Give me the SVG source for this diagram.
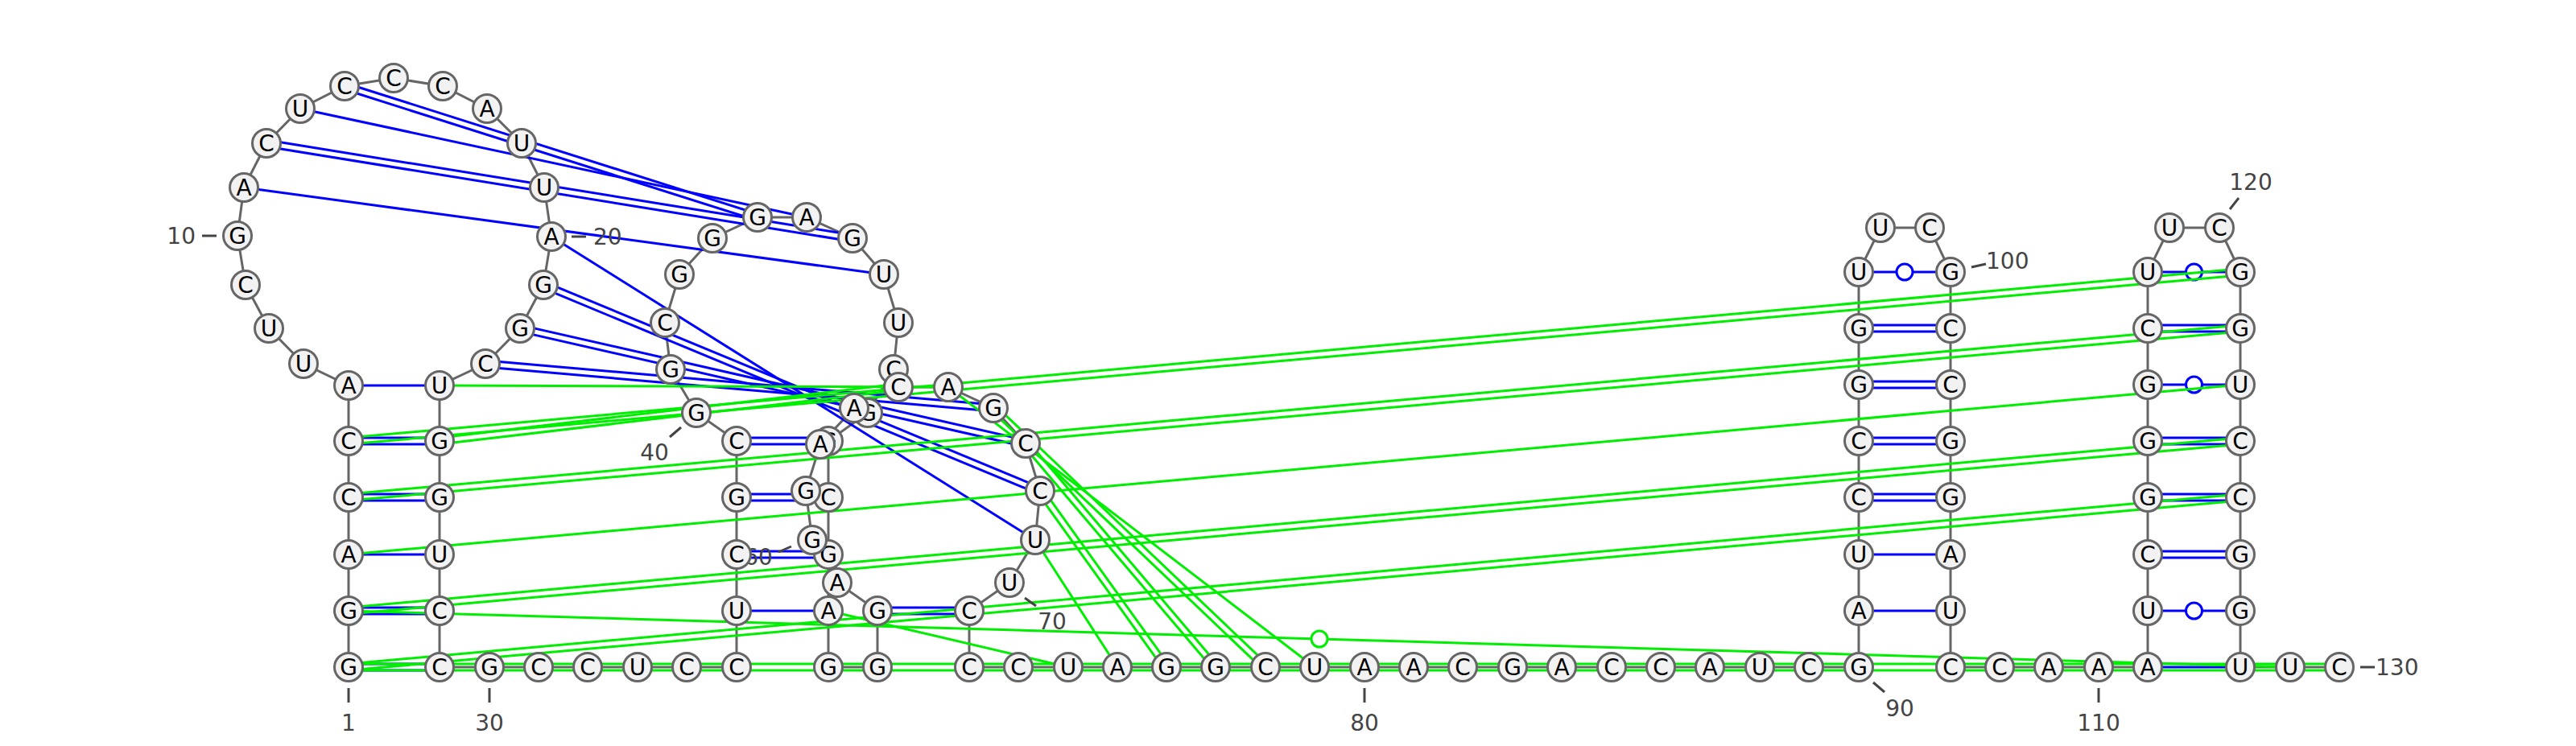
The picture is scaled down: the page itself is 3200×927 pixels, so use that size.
<svg xmlns="http://www.w3.org/2000/svg" width="3200" height="927" viewBox="0 0 3200 927">
<style>
.bb{stroke:#666;stroke-width:3;fill:none}
.b{stroke:#0000ff;stroke-width:3;fill:none}
.g{stroke:#00ee00;stroke-width:3;fill:none}
.bc{stroke:#0000ff;stroke-width:3;fill:#fff}
.gc{stroke:#00ee00;stroke-width:3;fill:#fff}
.n circle{fill:#f2f2f2;stroke:#666;stroke-width:3}
.n text{font-family:"DejaVu Sans",sans-serif;font-size:28px;text-anchor:middle;fill:#000}
.lt{stroke:#444;stroke-width:3}
.lb{font-family:"DejaVu Sans",sans-serif;font-size:28px;fill:#444}
</style>
<rect width="3200" height="927" fill="#fff"/>
<g id="connectors">
<polyline class="bb" points="433,829 433,759 433,689 433,618 433,548 433,479 377,452 334,408 305,354 295,293 303,233 331,178 373,135 428,107 489,97 550,107 605,135 648,178 676,233 685,294 675,354 646,408 603,452 546,479 546,548 546,618 546,689 546,759 546,829 608,829 669,829 730,829 792,829 853,829 915,829 915,759 915,689 915,618 915,548 865,513 833,459 826,401 844,341 885,296 941,270 1002,270 1059,296 1098,341 1116,401 1110,459 1078,513 1029,548 1029,618 1029,689 1029,759 1029,829 1090,829 1090,759 1040,724 1009,671 1001,610 1019,552 1061,507 1116,481 1178,481 1234,507 1274,551 1292,610 1286,671 1254,724 1204,759 1204,829 1265,829 1327,829 1388,829 1449,829 1510,829 1572,829 1633,829 1695,829 1756,829 1817,829 1879,829 1940,829 2002,829 2063,829 2124,829 2186,829 2247,829 2309,829 2309,759 2309,689 2309,618 2309,548 2309,478 2309,408 2309,338 2336,283 2397,283 2423,338 2423,408 2423,478 2423,548 2423,618 2423,689 2423,759 2423,829 2484,829 2545,829 2607,829 2668,829 2668,759 2668,689 2668,618 2668,548 2668,478 2668,408 2668,338 2695,283 2757,283 2783,338 2783,408 2783,478 2783,548 2783,618 2783,689 2783,759 2783,829 2845,829 2906,829"/>
<!-- blue pairs -->
<line class="b" x1="433" y1="825" x2="546" y2="825"/><line class="b" x1="433" y1="833" x2="546" y2="833"/>
<line class="b" x1="433" y1="755" x2="546" y2="755"/><line class="b" x1="433" y1="763" x2="546" y2="763"/>
<line class="b" x1="433" y1="689" x2="546" y2="689"/>
<line class="b" x1="433" y1="614" x2="546" y2="614"/><line class="b" x1="433" y1="622" x2="546" y2="622"/>
<line class="b" x1="433" y1="544" x2="546" y2="544"/><line class="b" x1="433" y1="552" x2="546" y2="552"/>
<line class="b" x1="433" y1="479" x2="546" y2="479"/>
<line class="b" x1="303" y1="233" x2="1098" y2="341"/>
<line class="b" x1="330.4" y1="182" x2="1058.4" y2="300"/><line class="b" x1="331.6" y1="174" x2="1059.6" y2="292"/>
<line class="b" x1="373" y1="135" x2="1002" y2="270"/>
<line class="b" x1="426.8" y1="110.8" x2="939.8" y2="273.8"/><line class="b" x1="429.2" y1="103.2" x2="942.2" y2="266.2"/>
<line class="b" x1="685" y1="294" x2="1286" y2="671"/>
<line class="b" x1="673.5" y1="357.7" x2="1290.5" y2="613.7"/><line class="b" x1="676.5" y1="350.3" x2="1293.5" y2="606.3"/>
<line class="b" x1="645.1" y1="411.9" x2="1273.1" y2="554.9"/><line class="b" x1="646.9" y1="404.1" x2="1274.9" y2="547.1"/>
<line class="b" x1="602.6" y1="456" x2="1233.6" y2="511"/><line class="b" x1="603.4" y1="448" x2="1234.4" y2="503"/>
<line class="b" x1="915" y1="759" x2="1029" y2="759"/>
<line class="b" x1="915" y1="685" x2="1029" y2="685"/><line class="b" x1="915" y1="693" x2="1029" y2="693"/>
<line class="b" x1="915" y1="614" x2="1029" y2="614"/><line class="b" x1="915" y1="622" x2="1029" y2="622"/>
<line class="b" x1="915" y1="544" x2="1029" y2="544"/><line class="b" x1="915" y1="552" x2="1029" y2="552"/>
<line class="b" x1="1090" y1="755" x2="1204" y2="755"/><line class="b" x1="1090" y1="763" x2="1204" y2="763"/>
<line class="b" x1="2309" y1="759" x2="2423" y2="759"/>
<line class="b" x1="2309" y1="689" x2="2423" y2="689"/>
<line class="b" x1="2309" y1="614" x2="2423" y2="614"/><line class="b" x1="2309" y1="622" x2="2423" y2="622"/>
<line class="b" x1="2309" y1="544" x2="2423" y2="544"/><line class="b" x1="2309" y1="552" x2="2423" y2="552"/>
<line class="b" x1="2309" y1="474" x2="2423" y2="474"/><line class="b" x1="2309" y1="482" x2="2423" y2="482"/>
<line class="b" x1="2309" y1="404" x2="2423" y2="404"/><line class="b" x1="2309" y1="412" x2="2423" y2="412"/>
<line class="b" x1="2309" y1="338" x2="2423" y2="338"/><circle class="bc" cx="2366" cy="338" r="10"/>
<line class="b" x1="2668" y1="829" x2="2783" y2="829"/>
<line class="b" x1="2668" y1="759" x2="2783" y2="759"/><circle class="bc" cx="2725.5" cy="759" r="10"/>
<line class="b" x1="2668" y1="685" x2="2783" y2="685"/><line class="b" x1="2668" y1="693" x2="2783" y2="693"/>
<line class="b" x1="2668" y1="614" x2="2783" y2="614"/><line class="b" x1="2668" y1="622" x2="2783" y2="622"/>
<line class="b" x1="2668" y1="544" x2="2783" y2="544"/><line class="b" x1="2668" y1="552" x2="2783" y2="552"/>
<line class="b" x1="2668" y1="478" x2="2783" y2="478"/><circle class="bc" cx="2725.5" cy="478" r="10"/>
<line class="b" x1="2668" y1="404" x2="2783" y2="404"/><line class="b" x1="2668" y1="412" x2="2783" y2="412"/>
<line class="b" x1="2668" y1="338" x2="2783" y2="338"/><circle class="bc" cx="2725.5" cy="338" r="10"/>
<!-- green pairs -->
<line class="g" x1="433" y1="825" x2="2906" y2="825"/><line class="g" x1="433" y1="833" x2="2906" y2="833"/>
<line class="g" x1="433.4" y1="833" x2="2783.4" y2="622"/><line class="g" x1="432.6" y1="825" x2="2782.6" y2="614"/>
<line class="g" x1="433.4" y1="763" x2="2783.4" y2="552"/><line class="g" x1="432.6" y1="755" x2="2782.6" y2="544"/>
<line class="g" x1="433" y1="689" x2="2783" y2="478"/>
<line class="g" x1="433.4" y1="622" x2="2783.4" y2="412"/><line class="g" x1="432.6" y1="614" x2="2782.6" y2="404"/>
<line class="g" x1="433.4" y1="552" x2="2783.4" y2="342"/><line class="g" x1="432.6" y1="544" x2="2782.6" y2="334"/>
<line class="g" x1="433" y1="759" x2="2845" y2="829"/><circle class="gc" cx="1639" cy="794" r="10"/>
<line class="g" x1="546" y1="479" x2="1178" y2="481"/>
<line class="g" x1="546" y1="544" x2="1116" y2="477"/><line class="g" x1="546" y1="552" x2="1116" y2="485"/>
<line class="g" x1="1029" y1="759" x2="1327" y2="829"/>
<line class="g" x1="1178" y1="481" x2="1633" y2="829"/>
<line class="g" x1="1231.2" y1="509.9" x2="1569.2" y2="831.9"/><line class="g" x1="1236.8" y1="504.1" x2="1574.8" y2="826.1"/>
<line class="g" x1="1271.4" y1="554" x2="1507.4" y2="832"/><line class="g" x1="1276.6" y1="548" x2="1512.6" y2="826"/>
<line class="g" x1="1288.8" y1="612.3" x2="1445.8" y2="831.3"/><line class="g" x1="1295.2" y1="607.7" x2="1452.2" y2="826.7"/>
<line class="g" x1="1286" y1="671" x2="1388" y2="829"/>
</g>
<g id="labels">
<line class="lt" x1="433" y1="855" x2="433" y2="873"/><text class="lb" x="433" y="908" text-anchor="middle">1</text>
<line class="lt" x1="251" y1="293" x2="269" y2="293"/><text class="lb" x="243" y="303" text-anchor="end">10</text>
<line class="lt" x1="710" y1="294" x2="728" y2="294"/><text class="lb" x="737" y="304">20</text>
<line class="lt" x1="608" y1="855" x2="608" y2="873"/><text class="lb" x="608" y="908" text-anchor="middle">30</text>
<line class="lt" x1="832" y1="543" x2="846" y2="531"/><text class="lb" x="813" y="572" text-anchor="middle">40</text>
<line class="lt" x1="967" y1="686" x2="983" y2="679"/><text class="lb" x="942" y="702" text-anchor="middle">60</text>
<line class="lt" x1="1273" y1="743" x2="1287" y2="753"/><text class="lb" x="1307" y="782" text-anchor="middle">70</text>
<line class="lt" x1="1695" y1="855" x2="1695" y2="873"/><text class="lb" x="1695" y="908" text-anchor="middle">80</text>
<line class="lt" x1="2327" y1="848" x2="2341" y2="860"/><text class="lb" x="2360" y="890" text-anchor="middle">90</text>
<line class="lt" x1="2449" y1="332" x2="2467" y2="328"/><text class="lb" x="2467" y="334">100</text>
<line class="lt" x1="2607" y1="855" x2="2607" y2="873"/><text class="lb" x="2607" y="908" text-anchor="middle">110</text>
<line class="lt" x1="2770" y1="260" x2="2781" y2="246"/><text class="lb" x="2796" y="236" text-anchor="middle">120</text>
<line class="lt" x1="2932" y1="829" x2="2950" y2="829"/><text class="lb" x="2951" y="839">130</text>
</g>
<g id="nodes" class="n">
<g id="n1"><circle cx="433" cy="829" r="17.5"/><text x="433" y="839">G</text></g>
<g id="n2"><circle cx="433" cy="759" r="17.5"/><text x="433" y="769">G</text></g>
<g id="n3"><circle cx="433" cy="689" r="17.5"/><text x="433" y="699">A</text></g>
<g id="n4"><circle cx="433" cy="618" r="17.5"/><text x="433" y="628">C</text></g>
<g id="n5"><circle cx="433" cy="548" r="17.5"/><text x="433" y="558">C</text></g>
<g id="n6"><circle cx="433" cy="479" r="17.5"/><text x="433" y="489">A</text></g>
<g id="n7"><circle cx="377" cy="452" r="17.5"/><text x="377" y="462">U</text></g>
<g id="n8"><circle cx="334" cy="408" r="17.5"/><text x="334" y="418">U</text></g>
<g id="n9"><circle cx="305" cy="354" r="17.5"/><text x="305" y="364">C</text></g>
<g id="n10"><circle cx="295" cy="293" r="17.5"/><text x="295" y="303">G</text></g>
<g id="n11"><circle cx="303" cy="233" r="17.5"/><text x="303" y="243">A</text></g>
<g id="n12"><circle cx="331" cy="178" r="17.5"/><text x="331" y="188">C</text></g>
<g id="n13"><circle cx="373" cy="135" r="17.5"/><text x="373" y="145">U</text></g>
<g id="n14"><circle cx="428" cy="107" r="17.5"/><text x="428" y="117">C</text></g>
<g id="n15"><circle cx="489" cy="97" r="17.5"/><text x="489" y="107">C</text></g>
<g id="n16"><circle cx="550" cy="107" r="17.5"/><text x="550" y="117">C</text></g>
<g id="n17"><circle cx="605" cy="135" r="17.5"/><text x="605" y="145">A</text></g>
<g id="n18"><circle cx="648" cy="178" r="17.5"/><text x="648" y="188">U</text></g>
<g id="n19"><circle cx="676" cy="233" r="17.5"/><text x="676" y="243">U</text></g>
<g id="n20"><circle cx="685" cy="294" r="17.5"/><text x="685" y="304">A</text></g>
<g id="n21"><circle cx="675" cy="354" r="17.5"/><text x="675" y="364">G</text></g>
<g id="n22"><circle cx="646" cy="408" r="17.5"/><text x="646" y="418">G</text></g>
<g id="n23"><circle cx="603" cy="452" r="17.5"/><text x="603" y="462">C</text></g>
<g id="n24"><circle cx="546" cy="479" r="17.5"/><text x="546" y="489">U</text></g>
<g id="n25"><circle cx="546" cy="548" r="17.5"/><text x="546" y="558">G</text></g>
<g id="n26"><circle cx="546" cy="618" r="17.5"/><text x="546" y="628">G</text></g>
<g id="n27"><circle cx="546" cy="689" r="17.5"/><text x="546" y="699">U</text></g>
<g id="n28"><circle cx="546" cy="759" r="17.5"/><text x="546" y="769">C</text></g>
<g id="n29"><circle cx="546" cy="829" r="17.5"/><text x="546" y="839">C</text></g>
<g id="n30"><circle cx="608" cy="829" r="17.5"/><text x="608" y="839">G</text></g>
<g id="n31"><circle cx="669" cy="829" r="17.5"/><text x="669" y="839">C</text></g>
<g id="n32"><circle cx="730" cy="829" r="17.5"/><text x="730" y="839">C</text></g>
<g id="n33"><circle cx="792" cy="829" r="17.5"/><text x="792" y="839">U</text></g>
<g id="n34"><circle cx="853" cy="829" r="17.5"/><text x="853" y="839">C</text></g>
<g id="n35"><circle cx="915" cy="829" r="17.5"/><text x="915" y="839">C</text></g>
<g id="n36"><circle cx="915" cy="759" r="17.5"/><text x="915" y="769">U</text></g>
<g id="n37"><circle cx="915" cy="689" r="17.5"/><text x="915" y="699">C</text></g>
<g id="n38"><circle cx="915" cy="618" r="17.5"/><text x="915" y="628">G</text></g>
<g id="n39"><circle cx="915" cy="548" r="17.5"/><text x="915" y="558">C</text></g>
<g id="n40"><circle cx="865" cy="513" r="17.5"/><text x="865" y="523">G</text></g>
<g id="n41"><circle cx="833" cy="459" r="17.5"/><text x="833" y="469">G</text></g>
<g id="n42"><circle cx="826" cy="401" r="17.5"/><text x="826" y="411">C</text></g>
<g id="n43"><circle cx="844" cy="341" r="17.5"/><text x="844" y="351">G</text></g>
<g id="n44"><circle cx="885" cy="296" r="17.5"/><text x="885" y="306">G</text></g>
<g id="n45"><circle cx="941" cy="270" r="17.5"/><text x="941" y="280">G</text></g>
<g id="n46"><circle cx="1002" cy="270" r="17.5"/><text x="1002" y="280">A</text></g>
<g id="n47"><circle cx="1059" cy="296" r="17.5"/><text x="1059" y="306">G</text></g>
<g id="n48"><circle cx="1098" cy="341" r="17.5"/><text x="1098" y="351">U</text></g>
<g id="n49"><circle cx="1116" cy="401" r="17.5"/><text x="1116" y="411">U</text></g>
<g id="n50"><circle cx="1110" cy="459" r="17.5"/><text x="1110" y="469">C</text></g>
<g id="n51"><circle cx="1078" cy="513" r="17.5"/><text x="1078" y="523">G</text></g>
<g id="n52"><circle cx="1029" cy="548" r="17.5"/><text x="1029" y="558">G</text></g>
<g id="n53"><circle cx="1029" cy="618" r="17.5"/><text x="1029" y="628">C</text></g>
<g id="n54"><circle cx="1029" cy="689" r="17.5"/><text x="1029" y="699">G</text></g>
<g id="n55"><circle cx="1029" cy="759" r="17.5"/><text x="1029" y="769">A</text></g>
<g id="n56"><circle cx="1029" cy="829" r="17.5"/><text x="1029" y="839">G</text></g>
<g id="n57"><circle cx="1090" cy="829" r="17.5"/><text x="1090" y="839">G</text></g>
<g id="n58"><circle cx="1090" cy="759" r="17.5"/><text x="1090" y="769">G</text></g>
<g id="n59"><circle cx="1040" cy="724" r="17.5"/><text x="1040" y="734">A</text></g>
<g id="n60"><circle cx="1009" cy="671" r="17.5"/><text x="1009" y="681">G</text></g>
<g id="n61"><circle cx="1001" cy="610" r="17.5"/><text x="1001" y="620">G</text></g>
<g id="n62"><circle cx="1019" cy="552" r="17.5"/><text x="1019" y="562">A</text></g>
<g id="n63"><circle cx="1061" cy="507" r="17.5"/><text x="1061" y="517">A</text></g>
<g id="n64"><circle cx="1116" cy="481" r="17.5"/><text x="1116" y="491">C</text></g>
<g id="n65"><circle cx="1178" cy="481" r="17.5"/><text x="1178" y="491">A</text></g>
<g id="n66"><circle cx="1234" cy="507" r="17.5"/><text x="1234" y="517">G</text></g>
<g id="n67"><circle cx="1274" cy="551" r="17.5"/><text x="1274" y="561">C</text></g>
<g id="n68"><circle cx="1292" cy="610" r="17.5"/><text x="1292" y="620">C</text></g>
<g id="n69"><circle cx="1286" cy="671" r="17.5"/><text x="1286" y="681">U</text></g>
<g id="n70"><circle cx="1254" cy="724" r="17.5"/><text x="1254" y="734">U</text></g>
<g id="n71"><circle cx="1204" cy="759" r="17.5"/><text x="1204" y="769">C</text></g>
<g id="n72"><circle cx="1204" cy="829" r="17.5"/><text x="1204" y="839">C</text></g>
<g id="n73"><circle cx="1265" cy="829" r="17.5"/><text x="1265" y="839">C</text></g>
<g id="n74"><circle cx="1327" cy="829" r="17.5"/><text x="1327" y="839">U</text></g>
<g id="n75"><circle cx="1388" cy="829" r="17.5"/><text x="1388" y="839">A</text></g>
<g id="n76"><circle cx="1449" cy="829" r="17.5"/><text x="1449" y="839">G</text></g>
<g id="n77"><circle cx="1510" cy="829" r="17.5"/><text x="1510" y="839">G</text></g>
<g id="n78"><circle cx="1572" cy="829" r="17.5"/><text x="1572" y="839">C</text></g>
<g id="n79"><circle cx="1633" cy="829" r="17.5"/><text x="1633" y="839">U</text></g>
<g id="n80"><circle cx="1695" cy="829" r="17.5"/><text x="1695" y="839">A</text></g>
<g id="n81"><circle cx="1756" cy="829" r="17.5"/><text x="1756" y="839">A</text></g>
<g id="n82"><circle cx="1817" cy="829" r="17.5"/><text x="1817" y="839">C</text></g>
<g id="n83"><circle cx="1879" cy="829" r="17.5"/><text x="1879" y="839">G</text></g>
<g id="n84"><circle cx="1940" cy="829" r="17.5"/><text x="1940" y="839">A</text></g>
<g id="n85"><circle cx="2002" cy="829" r="17.5"/><text x="2002" y="839">C</text></g>
<g id="n86"><circle cx="2063" cy="829" r="17.5"/><text x="2063" y="839">C</text></g>
<g id="n87"><circle cx="2124" cy="829" r="17.5"/><text x="2124" y="839">A</text></g>
<g id="n88"><circle cx="2186" cy="829" r="17.5"/><text x="2186" y="839">U</text></g>
<g id="n89"><circle cx="2247" cy="829" r="17.5"/><text x="2247" y="839">C</text></g>
<g id="n90"><circle cx="2309" cy="829" r="17.5"/><text x="2309" y="839">G</text></g>
<g id="n91"><circle cx="2309" cy="759" r="17.5"/><text x="2309" y="769">A</text></g>
<g id="n92"><circle cx="2309" cy="689" r="17.5"/><text x="2309" y="699">U</text></g>
<g id="n93"><circle cx="2309" cy="618" r="17.5"/><text x="2309" y="628">C</text></g>
<g id="n94"><circle cx="2309" cy="548" r="17.5"/><text x="2309" y="558">C</text></g>
<g id="n95"><circle cx="2309" cy="478" r="17.5"/><text x="2309" y="488">G</text></g>
<g id="n96"><circle cx="2309" cy="408" r="17.5"/><text x="2309" y="418">G</text></g>
<g id="n97"><circle cx="2309" cy="338" r="17.5"/><text x="2309" y="348">U</text></g>
<g id="n98"><circle cx="2336" cy="283" r="17.5"/><text x="2336" y="293">U</text></g>
<g id="n99"><circle cx="2397" cy="283" r="17.5"/><text x="2397" y="293">C</text></g>
<g id="n100"><circle cx="2423" cy="338" r="17.5"/><text x="2423" y="348">G</text></g>
<g id="n101"><circle cx="2423" cy="408" r="17.5"/><text x="2423" y="418">C</text></g>
<g id="n102"><circle cx="2423" cy="478" r="17.5"/><text x="2423" y="488">C</text></g>
<g id="n103"><circle cx="2423" cy="548" r="17.5"/><text x="2423" y="558">G</text></g>
<g id="n104"><circle cx="2423" cy="618" r="17.5"/><text x="2423" y="628">G</text></g>
<g id="n105"><circle cx="2423" cy="689" r="17.5"/><text x="2423" y="699">A</text></g>
<g id="n106"><circle cx="2423" cy="759" r="17.5"/><text x="2423" y="769">U</text></g>
<g id="n107"><circle cx="2423" cy="829" r="17.5"/><text x="2423" y="839">C</text></g>
<g id="n108"><circle cx="2484" cy="829" r="17.5"/><text x="2484" y="839">C</text></g>
<g id="n109"><circle cx="2545" cy="829" r="17.5"/><text x="2545" y="839">A</text></g>
<g id="n110"><circle cx="2607" cy="829" r="17.5"/><text x="2607" y="839">A</text></g>
<g id="n111"><circle cx="2668" cy="829" r="17.5"/><text x="2668" y="839">A</text></g>
<g id="n112"><circle cx="2668" cy="759" r="17.5"/><text x="2668" y="769">U</text></g>
<g id="n113"><circle cx="2668" cy="689" r="17.5"/><text x="2668" y="699">C</text></g>
<g id="n114"><circle cx="2668" cy="618" r="17.5"/><text x="2668" y="628">G</text></g>
<g id="n115"><circle cx="2668" cy="548" r="17.5"/><text x="2668" y="558">G</text></g>
<g id="n116"><circle cx="2668" cy="478" r="17.5"/><text x="2668" y="488">G</text></g>
<g id="n117"><circle cx="2668" cy="408" r="17.5"/><text x="2668" y="418">C</text></g>
<g id="n118"><circle cx="2668" cy="338" r="17.5"/><text x="2668" y="348">U</text></g>
<g id="n119"><circle cx="2695" cy="283" r="17.5"/><text x="2695" y="293">U</text></g>
<g id="n120"><circle cx="2757" cy="283" r="17.5"/><text x="2757" y="293">C</text></g>
<g id="n121"><circle cx="2783" cy="338" r="17.5"/><text x="2783" y="348">G</text></g>
<g id="n122"><circle cx="2783" cy="408" r="17.5"/><text x="2783" y="418">G</text></g>
<g id="n123"><circle cx="2783" cy="478" r="17.5"/><text x="2783" y="488">U</text></g>
<g id="n124"><circle cx="2783" cy="548" r="17.5"/><text x="2783" y="558">C</text></g>
<g id="n125"><circle cx="2783" cy="618" r="17.5"/><text x="2783" y="628">C</text></g>
<g id="n126"><circle cx="2783" cy="689" r="17.5"/><text x="2783" y="699">G</text></g>
<g id="n127"><circle cx="2783" cy="759" r="17.5"/><text x="2783" y="769">G</text></g>
<g id="n128"><circle cx="2783" cy="829" r="17.5"/><text x="2783" y="839">U</text></g>
<g id="n129"><circle cx="2845" cy="829" r="17.5"/><text x="2845" y="839">U</text></g>
<g id="n130"><circle cx="2906" cy="829" r="17.5"/><text x="2906" y="839">C</text></g>
</g>
</svg>
